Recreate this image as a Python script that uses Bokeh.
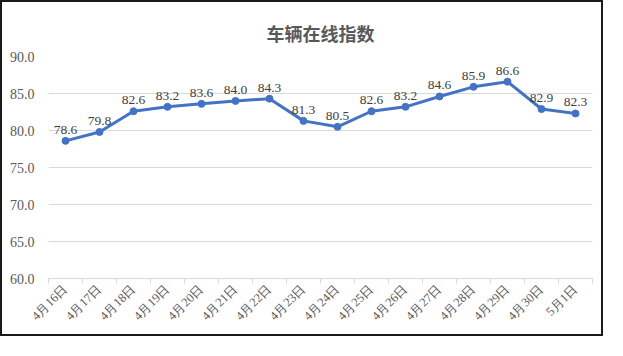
from bokeh.plotting import figure
from bokeh.models import Range1d, FixedTicker, ColumnDataSource
from bokeh.core.properties import value
from bokeh.embed import file_html
from bokeh.resources import INLINE
import math

title_text = "车辆在线指数"
dates = ["4月16日", "4月17日", "4月18日", "4月19日", "4月20日", "4月21日", "4月22日", "4月23日",
         "4月24日", "4月25日", "4月26日", "4月27日", "4月28日", "4月29日", "4月30日", "5月1日"]
values = [78.6, 79.8, 82.6, 83.2, 83.6, 84.0, 84.3, 81.3, 80.5, 82.6, 83.2, 84.6, 85.9, 86.6, 82.9, 82.3]
y_ticks = [60, 65, 70, 75, 80, 85, 90]

xs = list(range(len(dates)))
src = ColumnDataSource(dict(x=xs, y=values, lab=[f"{v:.1f}" for v in values]))

p = figure(width=603, height=336, output_backend="svg", toolbar_location=None,
           x_range=Range1d(-0.5, len(dates) - 0.5), y_range=Range1d(60, 90),
           min_border_left=46, min_border_right=13, min_border_top=54, min_border_bottom=60)
p.styles = {"border": "2px solid #1a1a1a"}
p.outline_line_color = None

p.title.text = title_text
p.title.text_font = "Noto Sans CJK SC"
p.title.text_font_size = "18px"
p.title.text_font_style = "bold"
p.title.text_color = "#595959"
p.title.align = "center"
p.title.offset = -17
p.title.standoff = 22

p.line("x", "y", source=src, line_color="#4472C4", line_width=3)
p.scatter("x", "y", source=src, size=7, fill_color="#4472C4", line_color="#4472C4")
p.text("x", "y", text="lab", source=src, y_offset=-7, text_align="center", text_baseline="bottom",
       text_font=value("Liberation Serif"), text_font_size="13.5px", text_color="#404040")

xa = p.xaxis[0]
xa.ticker = FixedTicker(ticks=xs, minor_ticks=[i - 0.5 for i in range(len(dates) + 1)])
xa.major_label_overrides = {i: d for i, d in enumerate(dates)}
xa.major_label_orientation = math.pi / 4
xa.major_tick_out = 0
xa.major_tick_in = 0
xa.minor_tick_out = 5
xa.minor_tick_in = 0
xa.minor_tick_line_color = "#D9D9D9"
xa.axis_line_color = "#D9D9D9"
xa.major_label_text_font = "Liberation Serif"
xa.major_label_text_font_size = "12.5px"
xa.major_label_text_color = "#595959"
xa.major_label_standoff = 3

ya = p.yaxis[0]
ya.ticker = FixedTicker(ticks=y_ticks)
ya.major_label_overrides = {t: f"{t:.1f}" for t in y_ticks}
ya.axis_line_color = None
ya.major_tick_line_color = None
ya.minor_tick_line_color = None
ya.major_label_text_font = "Liberation Serif"
ya.major_label_text_font_size = "14px"
ya.major_label_text_color = "#595959"
ya.major_label_standoff = 8

p.xgrid.grid_line_color = None
p.ygrid.grid_line_color = "#D9D9D9"
p.ygrid.ticker = FixedTicker(ticks=y_ticks)

open("out.html", "w").write(file_html(p, INLINE))
